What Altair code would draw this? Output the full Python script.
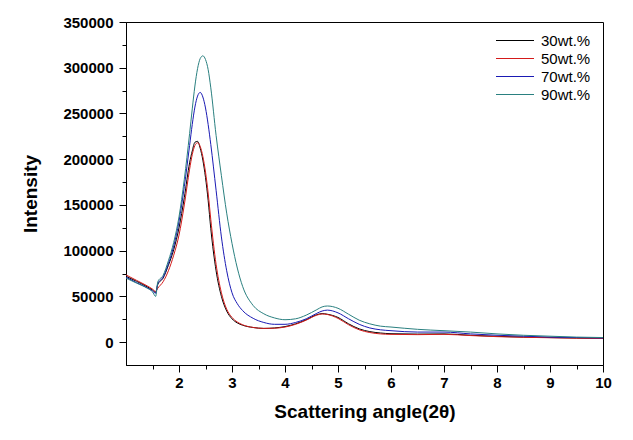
import altair as alt
import pandas as pd

# ---- data ----
angle = [1.0, 1.2, 1.4, 1.5, 1.56, 1.6, 1.7, 1.8, 1.9, 2.0, 2.1, 2.2, 2.25, 2.3, 2.35,
         2.4, 2.45, 2.5, 2.55, 2.6, 2.7, 2.8, 2.9, 3.0, 3.1, 3.2, 3.4, 3.6, 3.8, 4.0,
         4.2, 4.4, 4.6, 4.7, 4.8, 5.0, 5.2, 5.4, 5.6, 5.8, 6.0, 6.5, 7.0, 7.5, 8.0,
         8.5, 9.0, 9.5, 10.0]

wt30 = [72000, 66500, 60500, 57000, 54500, 63000, 70000, 84000, 101000, 125000, 158000,
        196000, 209000, 218500, 219500, 212000, 199000, 180000, 155000, 124000, 78000,
        50000, 34000, 25500, 21000, 18500, 16000, 15000, 15500, 17000, 20000, 24500,
        30000, 31200, 30500, 27000, 20000, 14500, 11500, 10000, 9200, 8800, 9000, 7500,
        6300, 5500, 5000, 4500, 4000]

wt50 = [73500, 67500, 61500, 58000, 55500, 59000, 66000, 78000, 95000, 117000, 150000,
        189000, 205000, 215000, 218000, 214000, 203000, 186000, 163000, 134000, 85000,
        54000, 36000, 27000, 22000, 19000, 16000, 15000, 15200, 16500, 19500, 24000,
        29500, 30800, 30200, 26000, 19000, 13500, 10500, 9000, 8500, 8200, 8500, 7200,
        6000, 5300, 4800, 4300, 4000]

wt70 = [71000, 65000, 59500, 56000, 53500, 64000, 71000, 86000, 105000, 132000, 170000,
        215000, 238000, 257000, 269000, 273000, 268000, 256000, 238000, 216000, 166000,
        115000, 78000, 54000, 42000, 34500, 26000, 21500, 19500, 19500, 21500, 25500,
        31500, 34000, 35000, 32000, 25500, 19500, 15500, 13500, 12500, 11000, 11000,
        9000, 7500, 6500, 5500, 5000, 4500]

wt90 = [70000, 64500, 59000, 55000, 50000, 66000, 73000, 89000, 109000, 137000, 178000,
        228000, 255000, 280000, 299000, 310000, 313000, 309000, 298000, 278000, 226000,
        182000, 141000, 108000, 81000, 61000, 40000, 31000, 26500, 24500, 25500, 29500,
        35500, 38500, 39500, 37000, 30500, 24000, 20000, 17500, 16500, 14000, 12500,
        11000, 9000, 7500, 6500, 5500, 5000]

series_names = ["30wt.%", "50wt.%", "70wt.%", "90wt.%"]
series_values = [wt30, wt50, wt70, wt90]
series_colors = ["#000000", "#d41a1a", "#1a1ab4", "#2a8080"]

x_major = [2, 3, 4, 5, 6, 7, 8, 9, 10]
x_minor = [1.5, 2.5, 3.5, 4.5, 5.5, 6.5, 7.5, 8.5, 9.5]
y_major = [0, 50000, 100000, 150000, 200000, 250000, 300000, 350000]
y_minor = [25000, 75000, 125000, 175000, 225000, 275000, 325000]

rows = []
for name, vals in zip(series_names, series_values):
    for a, v in zip(angle, vals):
        rows.append({"angle": a, "intensity": v, "series": name})
df = pd.DataFrame(rows)

FONT = "Liberation Sans"

x_scale = alt.Scale(domain=[1, 10], nice=False, zero=False)
y_scale = alt.Scale(domain=[-25000, 350000], nice=False, zero=False)

color = alt.Color(
    "series:N",
    scale=alt.Scale(domain=series_names, range=series_colors),
    legend=alt.Legend(
        title=None,
        orient="none",
        legendX=379,
        legendY=8.5,
        symbolType="M-2,0H2",
        symbolSize=361,
        symbolStrokeWidth=1,
        labelFont=FONT,
        labelFontSize=15,
        labelColor="#000000",
        labelOffset=16,
        rowPadding=0,
        padding=0,
    ),
)

main = alt.Chart(df).mark_line(strokeWidth=1, interpolate="monotone").encode(
    x=alt.X(
        "angle:Q",
        scale=x_scale,
        axis=alt.Axis(
            orient="bottom",
            values=x_major,
            format="d",
            title="Scattering angle(2θ)",
            titleFont=FONT,
            titleFontSize=19,
            titleFontWeight="bold",
            titleColor="#000000",
            titlePadding=12,
            labelFont=FONT,
            labelFontSize=15,
            labelFontWeight="bold",
            labelColor="#000000",
            labelPadding=3,
            tickSize=7,
            tickColor="#000000",
            domainColor="#000000",
            grid=False,
            labelFlush=False,
        ),
    ),
    y=alt.Y(
        "intensity:Q",
        scale=y_scale,
        axis=alt.Axis(
            orient="left",
            values=y_major,
            format="d",
            title="Intensity",
            titleFont=FONT,
            titleFontSize=19,
            titleFontWeight="bold",
            titleColor="#000000",
            titlePadding=22,
            labelFont=FONT,
            labelFontSize=15,
            labelFontWeight="bold",
            labelColor="#000000",
            labelPadding=6,
            tickSize=7,
            tickColor="#000000",
            domainColor="#000000",
            grid=False,
            labelFlush=False,
        ),
    ),
    color=color,
    order=alt.value(0),
)

minor = alt.Chart(df).mark_line(opacity=0).encode(
    x=alt.X(
        "angle:Q",
        scale=x_scale,
        axis=alt.Axis(
            orient="bottom",
            values=x_minor,
            labels=False,
            domain=False,
            title=None,
            tickSize=4,
            tickColor="#000000",
            grid=False,
        ),
    ),
    y=alt.Y(
        "intensity:Q",
        scale=y_scale,
        axis=alt.Axis(
            orient="left",
            values=y_minor,
            labels=False,
            domain=False,
            title=None,
            tickSize=4,
            tickColor="#000000",
            grid=False,
        ),
    ),
    detail="series:N",
)

chart = (
    alt.layer(main, minor)
    .resolve_axis(x="independent", y="independent")
    .properties(
        width=477,
        height=343,
        autosize=alt.AutoSizeParams(type="none"),
        padding={"left": 126, "top": 22, "right": 30, "bottom": 75},
        background="#ffffff",
    )
    .configure_view(stroke="#000000", strokeWidth=1)
)

chart.save("out.html", embed_options={"renderer": "svg", "actions": False})
